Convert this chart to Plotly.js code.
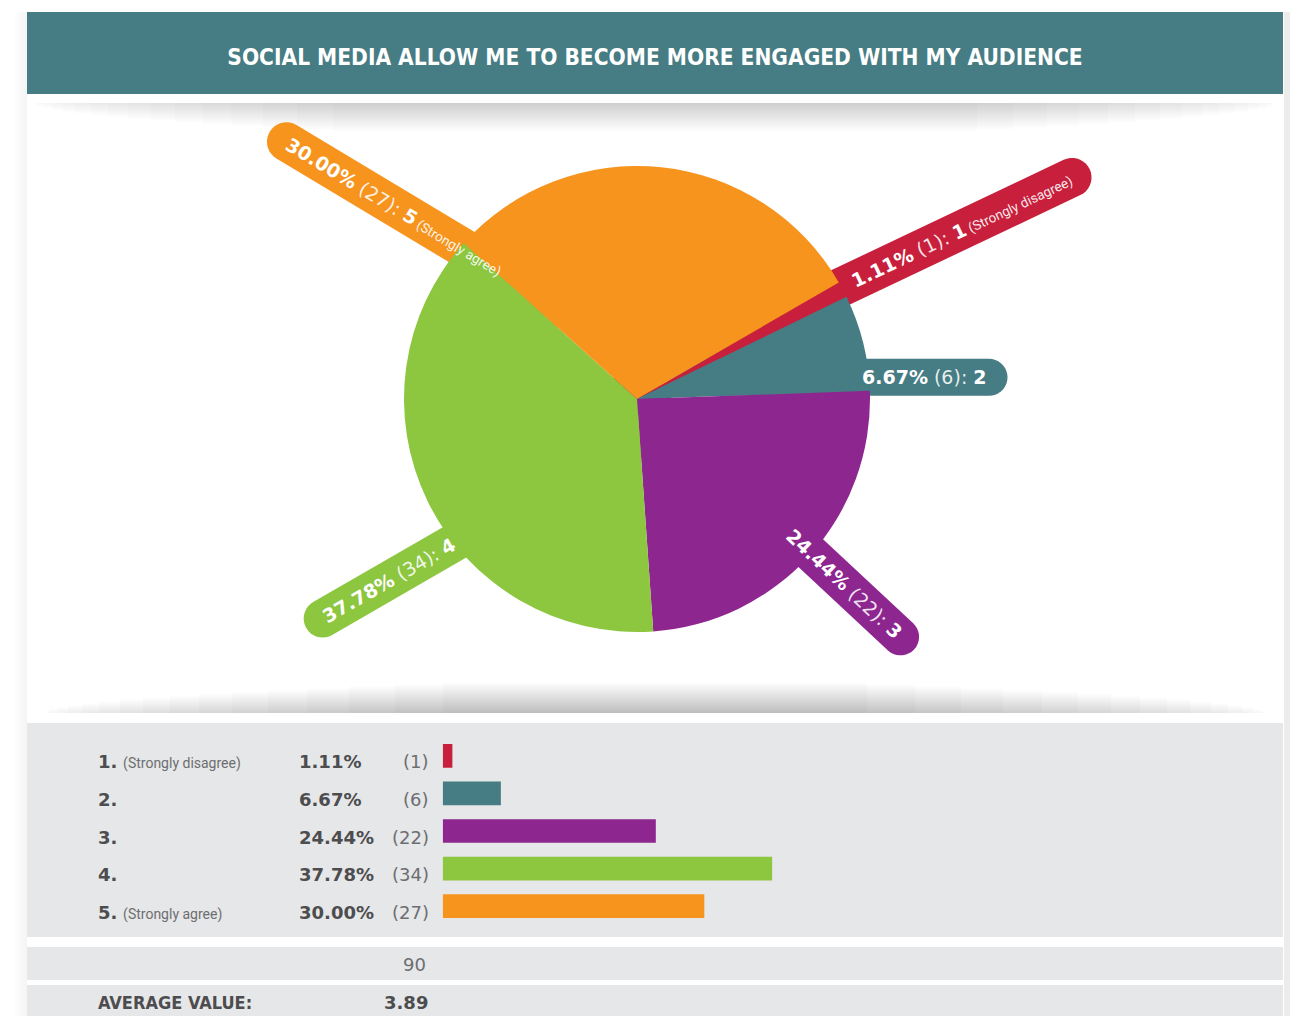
<!DOCTYPE html>
<html><head><meta charset="utf-8">
<script src="https://cdn.plot.ly/plotly-3.0.1.min.js"></script>
<style>html,body{margin:0;padding:0;background:#fff;overflow:hidden}#chart{width:1290px;height:1016px}</style>
</head><body><div id="chart"></div>
<script>
// ---------------- data ----------------
const chartTitle = "SOCIAL MEDIA ALLOW ME TO BECOME MORE ENGAGED WITH MY AUDIENCE";
const categories = ["1", "2", "3", "4", "5"];
const categoryNotes = ["Strongly disagree", "", "", "", "Strongly agree"];
const counts = [1, 6, 22, 34, 27];
const percents = [1.11, 6.67, 24.44, 37.78, 30.00];
const totalLabel = "90";
const averageLabel = "AVERAGE VALUE:";
const averageValue = "3.89";
const colors = ["#c8203c", "#467c83", "#8e2690", "#8dc63f", "#f7941e"];

// ---------------- layout config ----------------
const W = 1290, H = 1016;
const pieC = {x: 637, y: 399, r: 233};
// callout pills: outward angle (deg, ccw), perpendicular offset, inner/outer cap centre, half width
const callouts = [
  {a: 25.4, o: 13.5, rIn: 0, rOut: 488, h: 19.5},
  {a: 0,    o: 21.7, rIn: 0, rOut: 352, h: 18.5},
  {a: -43,  o: 5.8,  rIn: 0, rOut: 355, h: 18.5},
  {a: 210,  o: 33,   rIn: 0, rOut: 382, h: 19},
  {a: 149,  o: -40,  rIn: 0, rOut: 433, h: 19.5}
];
const numFont = "DejaVu Sans";
const noteFont = "Roboto";
const titleFont = "DejaVu Sans Condensed, DejaVu Sans, sans-serif";
const dark = "#4d4d4f", mid = "#6d6e71", panel = "#e6e7e8";

const px2x = p => p / W;
const px2y = p => 1 - p / H;

const canvas = document.createElement('canvas');
const ctx = canvas.getContext('2d');
function measure(parts) {
  let w = 0;
  for (const p of parts) { ctx.font = (p.b ? 'bold ' : '') + p.s + 'px "' + p.f + '"'; w += ctx.measureText(p.t).width; }
  return w;
}
function axisPt(c, t, s) {
  const a = c.a * Math.PI / 180;
  const ux = Math.cos(a), uy = Math.sin(a), nx = -uy, ny = ux;
  const X = (c.o + s) * nx + t * ux, Y = (c.o + s) * ny + t * uy;
  return [pieC.x + X, pieC.y - Y];
}
function pillPath(c) {
  const pts = [], N = 18;
  for (let k = 0; k <= N; k++) { const f = Math.PI / 2 - Math.PI * k / N; pts.push(axisPt(c, c.rOut + c.h * Math.cos(f), c.h * Math.sin(f))); }
  for (let k = 0; k <= N; k++) { const f = -Math.PI / 2 - Math.PI * k / N; pts.push(axisPt(c, c.rIn + c.h * Math.cos(f), c.h * Math.sin(f))); }
  return 'M' + pts.map(p => px2x(p[0]).toFixed(5) + ' ' + px2y(p[1]).toFixed(5)).join(' L') + ' Z';
}

const shapes = [];
const annotations = [];
function rect(x0, y0, x1, y1, color) {
  shapes.push({type: 'rect', xref: 'paper', yref: 'paper', layer: 'below',
    x0: px2x(x0), x1: px2x(x1), y0: px2y(y1), y1: px2y(y0), fillcolor: color, line: {width: 0}});
}
function shadow(yEdge, dir, maxH, n, op, x0, x1, insetBase, insetGrow) {
  for (let i = 1; i <= n; i++) {
    const h = maxH * i / n, a = insetBase + insetGrow * Math.pow(i / n, 2);
    const ya = yEdge, yb = yEdge + dir * h;
    rect(x0 + a, Math.min(ya, yb), x1 - a, Math.max(ya, yb), 'rgba(0,0,0,' + op + ')');
  }
}

// side shadows
for (let i = 1; i <= 5; i++) rect(27 - i * 2.4, 12, 27, 1016, 'rgba(0,0,0,0.008)');
rect(1284, 12, 1290, 1016, '#ececec');
// header
rect(27, 12, 1283, 94, '#467c83');
shadow(103, 1, 28, 16, 0.0135, 27, 1283, 6, 300);
shadow(713, -1, 30, 16, 0.0145, 27, 1283, 16, 400);
// panels
rect(27, 723, 1283, 937, panel);
rect(27, 947, 1283, 980, panel);
rect(27, 985, 1283, 1016, panel);

// callout pills (below the pie) + their texts
callouts.forEach((c, i) => {
  shapes.push({type: 'path', xref: 'paper', yref: 'paper', layer: 'below', path: pillPath(c), fillcolor: colors[i], line: {width: 0}});
  const fs = 19;
  const parts = [
    {t: percents[i].toFixed(2) + '%', b: true, s: fs, f: numFont},
    {t: ' (' + counts[i] + '): ', b: false, s: fs, f: numFont},
    {t: categories[i], b: true, s: fs, f: numFont}
  ];
  let html = '<b>' + parts[0].t + '</b><span style="color:rgba(255,255,255,0.88)">' + parts[1].t + '</span><b>' + parts[2].t + '</b>';
  if (categoryNotes[i]) {
    parts.push({t: ' (' + categoryNotes[i] + ')', b: false, s: 13.5, f: noteFont});
    html += '<span style="font-family:Roboto;font-size:13.5px;color:rgba(255,255,255,0.92)"> (' + categoryNotes[i] + ')</span>';
  }
  const w = measure(parts);
  const tm = c.rOut - w / 2 - 2;
  const p = axisPt(c, tm, 0);
  const ang = Math.cos(c.a * Math.PI / 180) >= 0 ? -c.a : 180 - c.a;
  annotations.push({xref: 'paper', yref: 'paper', x: px2x(p[0]), y: px2y(p[1]), xanchor: 'center', yanchor: 'middle',
    text: html, showarrow: false, textangle: ang, font: {family: numFont, size: fs, color: '#ffffff'}});
});

// table rows
categories.forEach((cat, i) => {
  let t = '<b>' + cat + '.</b>';
  if (categoryNotes[i]) t += ' <span style="font-family:Roboto;font-size:14px;color:' + mid + '">(' + categoryNotes[i] + ')</span>';
  annotations.push({xref: 'paper', yref: 'y', x: px2x(96), y: i, yshift: -6, xanchor: 'left', yanchor: 'middle', showarrow: false,
    text: t, font: {family: numFont, size: 18, color: dark}});
  annotations.push({xref: 'paper', yref: 'y', x: px2x(297), y: i, yshift: -6, xanchor: 'left', yanchor: 'middle', showarrow: false,
    text: '<b>' + percents[i].toFixed(2) + '%</b>', font: {family: numFont, size: 18, color: dark}});
  annotations.push({xref: 'paper', yref: 'y', x: px2x(431), y: i, yshift: -6, xanchor: 'right', yanchor: 'middle', showarrow: false,
    text: '(' + counts[i] + ')', font: {family: numFont, size: 18, color: mid}});
});
annotations.push({xref: 'paper', yref: 'paper', x: px2x(428), y: px2y(964), xanchor: 'right', yanchor: 'middle', showarrow: false,
  text: totalLabel, font: {family: numFont, size: 18, color: mid}});
annotations.push({xref: 'paper', yref: 'paper', x: px2x(96), y: px2y(1002), xanchor: 'left', yanchor: 'middle', showarrow: false,
  text: '<b>' + averageLabel + '</b>', font: {family: titleFont, size: 18, color: dark}});
annotations.push({xref: 'paper', yref: 'paper', x: px2x(430), y: px2y(1002), xanchor: 'right', yanchor: 'middle', showarrow: false,
  text: '<b>' + averageValue + '</b>', font: {family: numFont, size: 18, color: dark}});

const pieTrace = {
  type: 'pie', values: counts, labels: categories, sort: false, direction: 'clockwise', rotation: 60,
  marker: {colors: colors, line: {width: 0}}, textinfo: 'none', hoverinfo: 'none', showlegend: false,
  domain: {x: [px2x(pieC.x - pieC.r), px2x(pieC.x + pieC.r)], y: [px2y(pieC.y + pieC.r), px2y(pieC.y - pieC.r)]}
};
const barX0 = 442.7, pxPerPct = 8.72;
const barTrace = {
  type: 'bar', orientation: 'h', x: percents, y: categories, marker: {color: colors, line: {width: 0}},
  xaxis: 'x', yaxis: 'y', hoverinfo: 'none', showlegend: false
};
const rowTop = 737, rowStep = 37.6;
const layout = {
  width: W, height: H, margin: {l: 0, r: 0, t: 0, b: 0}, paper_bgcolor: '#ffffff', plot_bgcolor: 'rgba(0,0,0,0)',
  showlegend: false, bargap: 0.37,
  title: {text: '<b>' + chartTitle + '</b>', x: px2x(655), y: px2y(57), xref: 'paper', yref: 'paper', xanchor: 'center', yanchor: 'middle',
    font: {family: titleFont, size: 22.5, color: '#ffffff'}},
  xaxis: {domain: [px2x(barX0), 1], range: [0, (W - barX0) / pxPerPct], visible: false, fixedrange: true},
  yaxis: {type: 'category', domain: [px2y(rowTop + 5 * rowStep), px2y(rowTop)], autorange: 'reversed', visible: false, fixedrange: true},
  shapes: shapes, annotations: annotations
};
Plotly.newPlot('chart', [pieTrace, barTrace], layout, {staticPlot: true, displayModeBar: false});
</script>
</body></html>
